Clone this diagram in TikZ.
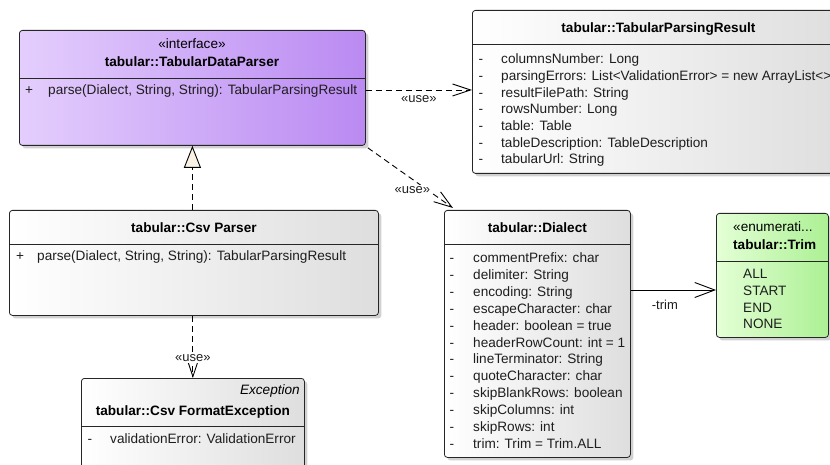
\documentclass[tikz,border=0pt]{standalone}
\usepackage{fontspec}
\setmainfont{Liberation Sans}
\usetikzlibrary{arrows.meta,shadows}

\definecolor{ifaceL}{RGB}{228,206,253}
\definecolor{ifaceR}{RGB}{186,138,242}
\definecolor{enumL}{RGB}{228,255,214}
\definecolor{enumR}{RGB}{172,240,148}
\definecolor{clsL}{RGB}{255,255,255}
\definecolor{clsR}{RGB}{222,222,222}
\definecolor{triFill}{RGB}{250,242,228}
\definecolor{txt}{RGB}{30,30,30}

\begin{document}
\begin{tikzpicture}[x=1pt,y=-1pt,
  font=\fontsize{13.6}{16}\selectfont,
  umlbox/.style={draw=black!85, line width=0.8pt, rounded corners=3pt,
    inner sep=0pt, anchor=north west,
    drop shadow={shadow xshift=3pt, shadow yshift=-3pt, fill=black!30, opacity=0.6}},
  classfill/.style={left color=clsL, right color=clsR},
  ifacefill/.style={left color=ifaceL, right color=ifaceR},
  enumfill/.style={left color=enumL, right color=enumR},
  sepline/.style={draw=black!85, line width=0.8pt},
  title/.style={font=\fontsize{13.6}{16}\selectfont\bfseries, text=black, inner sep=0pt, anchor=base},
  stereo/.style={text=black, inner sep=0pt, anchor=base},
  member/.style={anchor=base west, inner sep=0pt, text=txt},
  vis/.style={anchor=base, inner sep=0pt, text=txt},
  usedep/.style={draw=black, line width=0.9pt, dash pattern=on 6pt off 4pt,
    -{Straight Barb[length=18pt,width=12pt,line width=0.9pt]}},
  assoc/.style={draw=black, line width=0.9pt,
    -{Straight Barb[length=20pt,width=15pt,line width=0.9pt]}},
  realize/.style={draw=black, line width=0.9pt, dash pattern=on 6pt off 4pt,
    -{Triangle[open, length=22pt, width=17pt, fill=triFill, line width=0.9pt]}},
  lbl/.style={font=\fontsize{13}{15}\selectfont, text=txt, inner sep=1pt}
]
\useasboundingbox (0,0) rectangle (830,465);
\clip (0,0) rectangle (830,465);

% ---------- interface TabularDataParser ----------
\node[umlbox, ifacefill, minimum width=346pt, minimum height=115pt] (iface) at (19,30) {};
\draw[sepline] (iface.west |- 0,78) -- (iface.east |- 0,78);
\node[stereo] (ifaceSt) at (192,49) {«interface»};
\node[title] (ifaceT) at (192,67) {tabular::TabularDataParser};
\node[vis] (ifaceV) at (29,95) {+};
\node[member] (ifaceM) at (48,95) {parse(Dialect, String, String): TabularParsingResult};

% ---------- class TabularParsingResult ----------
\node[umlbox, classfill, minimum width=372pt, minimum height=163pt] (tpr) at (472,10) {};
\draw[sepline] (tpr.west |- 0,44) -- (tpr.east |- 0,44);
\node[title] (tprT) at (tpr.north |- 0,33) {tabular::TabularParsingResult};
\foreach \y/\t [count=\i] in {
  64/{columnsNumber: Long},
  81/{parsingErrors: List<ValidationError> = new ArrayList<>()},
  98/{resultFilePath: String},
  114/{rowsNumber: Long},
  131/{table: Table},
  148/{tableDescription: TableDescription},
  164/{tabularUrl: String}} {
  \node[vis] (tprV\i) at (481,\y) {-};
  \node[member] (tprM\i) at (501,\y) {\t};
}

% ---------- class CsvParser ----------
\node[umlbox, classfill, minimum width=369pt, minimum height=105pt] (csv) at (9,210) {};
\draw[sepline] (csv.west |- 0,244) -- (csv.east |- 0,244);
\node[title] (csvT) at (csv.north |- 0,233) {tabular::Csv Parser};
\node[vis] (csvV) at (20,261) {+};
\node[member] (csvM) at (37,261) {parse(Dialect, String, String): TabularParsingResult};

% ---------- class CsvFormatException ----------
\node[umlbox, classfill, minimum width=223pt, minimum height=110pt] (exc) at (81,378) {};
\draw[sepline] (exc.west |- 0,426) -- (exc.east |- 0,426);
\node[stereo, anchor=base east, font=\fontsize{13.6}{16}\selectfont\itshape] (excSt) at (300,394) {Exception};
\node[title] (excT) at (exc.north |- 0,415) {tabular::Csv FormatException};
\node[vis] (excV) at (90,443) {-};
\node[member] (excM) at (110,443) {validationError: ValidationError};

% ---------- class Dialect ----------
\node[umlbox, classfill, minimum width=186pt, minimum height=247pt] (dialect) at (444,210) {};
\draw[sepline] (dialect.west |- 0,244) -- (dialect.east |- 0,244);
\node[title] (dialectT) at (dialect.north |- 0,233) {tabular::Dialect};
\foreach \y/\t [count=\i] in {
  262/{commentPrefix: char},
  279/{delimiter: String},
  296/{encoding: String},
  313/{escapeCharacter: char},
  330/{header: boolean = true},
  347/{headerRowCount: int = 1},
  363/{lineTerminator: String},
  380/{quoteCharacter: char},
  397/{skipBlankRows: boolean},
  414/{skipColumns: int},
  431/{skipRows: int},
  448/{trim: Trim = Trim.ALL}} {
  \node[vis] (dialectV\i) at (452,\y) {-};
  \node[member] (dialectM\i) at (473,\y) {\t};
}

% ---------- enumeration Trim ----------
\node[umlbox, enumfill, minimum width=112pt, minimum height=124pt] (trim) at (716,213) {};
\draw[sepline] (trim.west |- 0,261) -- (trim.east |- 0,261);
\node[stereo, anchor=base west] (trimSt) at (733,232) {«enumerati...};
\node[title, anchor=base west] (trimT) at (733,249) {tabular::Trim};
\foreach \y/\t [count=\i] in {278/ALL, 295/START, 312/END, 328/NONE} {
  \node[member] (trimM\i) at (743,\y) {\t};
}

% ---------- connectors ----------
\draw[usedep] (iface.east |- 0,90) -- (tpr.west |- 0,90)
  node[lbl, midway, below=4pt] {«use»};
\draw[usedep] ([xshift=2pt,yshift=-2pt]iface.south east)
  -- ([xshift=9pt,yshift=2pt]dialect.north west)
  node[lbl, pos=0.7, xshift=-15pt, fill=white] {«use»};
\draw[realize] (csv.north -| iface.south) -- (iface.south);
\draw[usedep] (csv.south -| exc.north) -- (exc.north)
  node[lbl, pos=0.68, fill=white] {«use»};
\draw[assoc] (dialect.east |- 0,290) -- (trim.west |- 0,290)
  node[lbl, pos=0.4, below=9pt] {-trim};

\end{tikzpicture}
\end{document}
